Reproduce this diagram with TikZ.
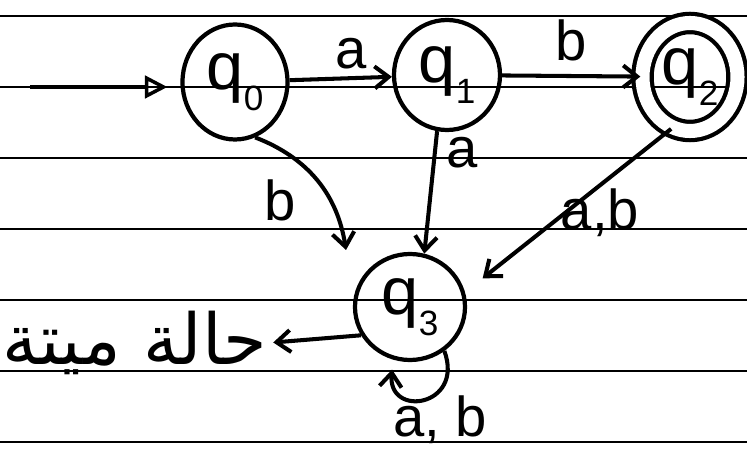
\documentclass[tikz,border=0pt]{standalone}
\usepackage{fontspec}
\setmainfont{Liberation Sans}
\newfontfamily\arabicfont[Script=Arabic]{DejaVu Sans}
\TeXXeTstate=1
\usetikzlibrary{arrows.meta,shapes.geometric}
\definecolor{ink}{HTML}{000000}
\newcommand{\stq}[1]{q\raisebox{-12pt}{\fontsize{20}{20}\selectfont#1}}
\tikzset{
  state/.style={draw=ink,ellipse,line width=2.4pt,inner sep=0pt,
    font=\fontsize{38}{40}\selectfont},
  accept/.style={state,double,double distance=8pt},
  arr/.style={-{Straight Barb[length=2.8mm,width=4.4mm]},line width=2.3pt,ink},
  init/.style={-{Triangle[open,length=4.5mm,width=4.5mm]},line width=2pt,ink},
  lbl/.style={font=\fontsize{32}{34}\selectfont,text=ink},
  rule/.style={line width=0.8pt,ink}
}

\begin{document}
\begin{tikzpicture}
  \useasboundingbox (0,0) rectangle (14.94,9);
  % ruled paper
  \foreach \y in {8.68,7.26,5.84,4.42,3.0,1.58,0.16}
    \draw[rule] (0,\y) -- (14.94,\y);

  \node[state,minimum width=2.1cm,minimum height=2.3cm] (q0) at (4.7,7.36) {\stq{0}};
  \node[state,minimum width=2.12cm,minimum height=2.2cm] (q1) at (8.94,7.5) {\stq{1}};
  \node[accept,minimum width=1.9cm,minimum height=2.16cm] (q2) at (13.8,7.46) {\stq{2}};
  \node[state,minimum width=2.2cm,minimum height=2.12cm] (q3) at (8.2,2.86) {\stq{3}};
  \node[lbl,font=\arabicfont\fontsize{40}{42}\selectfont] (dead) at (2.7,2.15)
    {\beginR حالة ميتة\endR};

  \coordinate (start) at (0.6,7.26);
  \coordinate (q3in) at (6.92,4.0);
  \draw[init] (start) -- ([xshift=-0.26cm]q0.west |- start);

  \draw[arr] (q0) -- (q1) node[lbl,midway,above=1pt,xshift=6pt] {a};
  \draw[arr] (q1) -- (q2) node[lbl,midway,above=4pt] {b};
  \draw[arr] (q0.-70) to[bend left=30] (q3in);
  \draw[arr] (q1.-100) -- (q3.75);
  \draw[arr,shorten >=0.45cm] (q2.-110) -- (q3.15);
  \draw[arr] (q3.-150) -- (dead.east);
  \draw[arr,shorten >=0.2cm] (q3.-52) to[out=-70,in=-95,looseness=2.9] (q3.-108);

  \node[lbl] (lb0) at (5.6,5.0) {b};
  \node[lbl] (la1) at (9.25,5.95) {a};
  \node[lbl] (lab2) at (12.0,4.75) {a,b};
  \node[lbl] (lab3) at (8.8,0.6) {a, b};
\end{tikzpicture}
\end{document}
